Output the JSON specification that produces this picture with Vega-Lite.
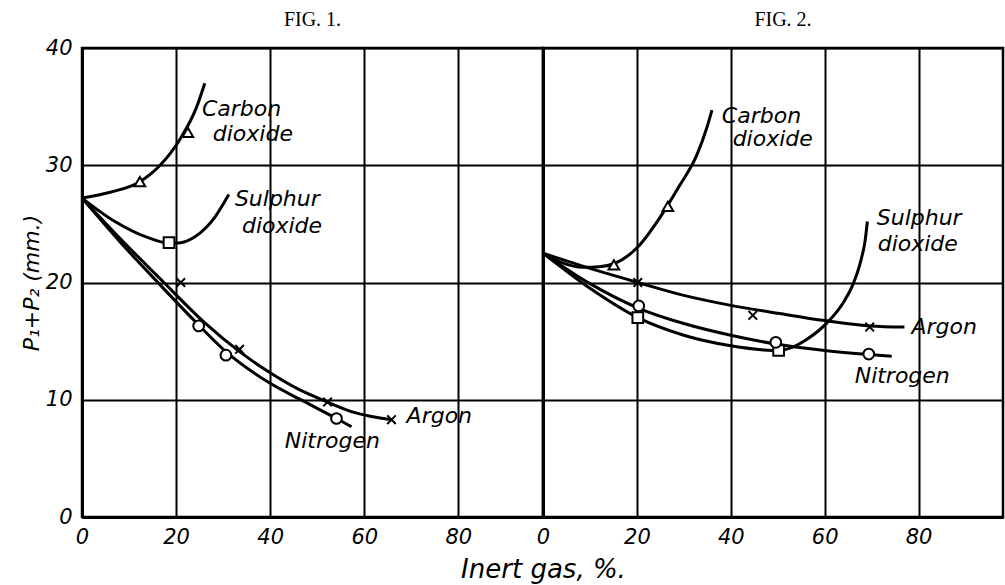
{
  "$schema": "https://vega.github.io/schema/vega-lite/v6.json",
  "background": "white",
  "padding": {"left": 19, "top": 8, "right": 0, "bottom": 0},
  "spacing": 0,
  "bounds": "flush",
  "config": {
    "view": {"stroke": "black", "strokeWidth": 2.5},
    "font": "DejaVu Sans",
    "axis": {
      "ticks": false, "tickSize": 0,
      "domainColor": "black", "domainWidth": 3,
      "gridColor": "black", "gridWidth": 2, "gridOpacity": 1,
      "labelFont": "DejaVu Sans", "labelFontStyle": "italic", "labelFontSize": 21, "labelColor": "black",
      "labelFlush": false,
      "titleFont": "DejaVu Sans", "titleFontStyle": "italic", "titleFontWeight": "normal", "titleFontSize": 22, "titleColor": "black"
    },
    "title": {"font": "Liberation Serif", "fontSize": 20, "fontWeight": "normal", "color": "black", "frame": "group", "baseline": "bottom"}
  },
  "datasets": {
    "curves": [
      {"fig": 1, "gas": "Carbon dioxide", "x": 0, "y": 27.2},
      {"fig": 1, "gas": "Carbon dioxide", "x": 6, "y": 27.7},
      {"fig": 1, "gas": "Carbon dioxide", "x": 12.3, "y": 28.6},
      {"fig": 1, "gas": "Carbon dioxide", "x": 16.6, "y": 30},
      {"fig": 1, "gas": "Carbon dioxide", "x": 20.8, "y": 32.2},
      {"fig": 1, "gas": "Carbon dioxide", "x": 24.4, "y": 35},
      {"fig": 1, "gas": "Carbon dioxide", "x": 26.1, "y": 37},
      {"fig": 1, "gas": "Sulphur dioxide", "x": 0, "y": 27.2},
      {"fig": 1, "gas": "Sulphur dioxide", "x": 7, "y": 25.2},
      {"fig": 1, "gas": "Sulphur dioxide", "x": 14.2, "y": 23.8},
      {"fig": 1, "gas": "Sulphur dioxide", "x": 18.5, "y": 23.35},
      {"fig": 1, "gas": "Sulphur dioxide", "x": 21, "y": 23.4},
      {"fig": 1, "gas": "Sulphur dioxide", "x": 24, "y": 23.9},
      {"fig": 1, "gas": "Sulphur dioxide", "x": 28.3, "y": 25.6},
      {"fig": 1, "gas": "Sulphur dioxide", "x": 31.2, "y": 27.5},
      {"fig": 1, "gas": "Argon", "x": 0, "y": 27.2},
      {"fig": 1, "gas": "Argon", "x": 8, "y": 23.8},
      {"fig": 1, "gas": "Argon", "x": 17.4, "y": 20},
      {"fig": 1, "gas": "Argon", "x": 26, "y": 16.6},
      {"fig": 1, "gas": "Argon", "x": 33.5, "y": 14.1},
      {"fig": 1, "gas": "Argon", "x": 40, "y": 12.3},
      {"fig": 1, "gas": "Argon", "x": 46, "y": 10.9},
      {"fig": 1, "gas": "Argon", "x": 51.6, "y": 9.9},
      {"fig": 1, "gas": "Argon", "x": 58, "y": 8.9},
      {"fig": 1, "gas": "Argon", "x": 65.8, "y": 8.3},
      {"fig": 1, "gas": "Nitrogen", "x": 0, "y": 27.2},
      {"fig": 1, "gas": "Nitrogen", "x": 8, "y": 23.5},
      {"fig": 1, "gas": "Nitrogen", "x": 15.9, "y": 20.1},
      {"fig": 1, "gas": "Nitrogen", "x": 24, "y": 16.7},
      {"fig": 1, "gas": "Nitrogen", "x": 30.6, "y": 14.1},
      {"fig": 1, "gas": "Nitrogen", "x": 40, "y": 11.4},
      {"fig": 1, "gas": "Nitrogen", "x": 47, "y": 9.9},
      {"fig": 1, "gas": "Nitrogen", "x": 54.1, "y": 8.4},
      {"fig": 1, "gas": "Nitrogen", "x": 57.3, "y": 7.7},
      {"fig": 2, "gas": "Carbon dioxide", "x": 0, "y": 22.5},
      {"fig": 2, "gas": "Carbon dioxide", "x": 4, "y": 21.7},
      {"fig": 2, "gas": "Carbon dioxide", "x": 8.5, "y": 21.3},
      {"fig": 2, "gas": "Carbon dioxide", "x": 12, "y": 21.35},
      {"fig": 2, "gas": "Carbon dioxide", "x": 15.1, "y": 21.6},
      {"fig": 2, "gas": "Carbon dioxide", "x": 20.6, "y": 23.2},
      {"fig": 2, "gas": "Carbon dioxide", "x": 24, "y": 25},
      {"fig": 2, "gas": "Carbon dioxide", "x": 26.6, "y": 26.6},
      {"fig": 2, "gas": "Carbon dioxide", "x": 29, "y": 28.2},
      {"fig": 2, "gas": "Carbon dioxide", "x": 32.8, "y": 30.9},
      {"fig": 2, "gas": "Carbon dioxide", "x": 34.9, "y": 33.2},
      {"fig": 2, "gas": "Carbon dioxide", "x": 36, "y": 34.7},
      {"fig": 2, "gas": "Sulphur dioxide", "x": 0, "y": 22.5},
      {"fig": 2, "gas": "Sulphur dioxide", "x": 10, "y": 19.5},
      {"fig": 2, "gas": "Sulphur dioxide", "x": 20.2, "y": 17.0},
      {"fig": 2, "gas": "Sulphur dioxide", "x": 30, "y": 15.5},
      {"fig": 2, "gas": "Sulphur dioxide", "x": 40, "y": 14.6},
      {"fig": 2, "gas": "Sulphur dioxide", "x": 47, "y": 14.25},
      {"fig": 2, "gas": "Sulphur dioxide", "x": 50.2, "y": 14.2},
      {"fig": 2, "gas": "Sulphur dioxide", "x": 52.6, "y": 14.4},
      {"fig": 2, "gas": "Sulphur dioxide", "x": 56, "y": 15.1},
      {"fig": 2, "gas": "Sulphur dioxide", "x": 60.6, "y": 16.6},
      {"fig": 2, "gas": "Sulphur dioxide", "x": 64, "y": 18.3},
      {"fig": 2, "gas": "Sulphur dioxide", "x": 66, "y": 19.8},
      {"fig": 2, "gas": "Sulphur dioxide", "x": 67.8, "y": 22},
      {"fig": 2, "gas": "Sulphur dioxide", "x": 68.6, "y": 23.5},
      {"fig": 2, "gas": "Sulphur dioxide", "x": 69.1, "y": 25.2},
      {"fig": 2, "gas": "Argon", "x": 0, "y": 22.5},
      {"fig": 2, "gas": "Argon", "x": 10, "y": 21.2},
      {"fig": 2, "gas": "Argon", "x": 20.2, "y": 20},
      {"fig": 2, "gas": "Argon", "x": 30, "y": 18.9},
      {"fig": 2, "gas": "Argon", "x": 40, "y": 18.05},
      {"fig": 2, "gas": "Argon", "x": 50.4, "y": 17.35},
      {"fig": 2, "gas": "Argon", "x": 60, "y": 16.75},
      {"fig": 2, "gas": "Argon", "x": 69.6, "y": 16.3},
      {"fig": 2, "gas": "Argon", "x": 77, "y": 16.2},
      {"fig": 2, "gas": "Nitrogen", "x": 0, "y": 22.5},
      {"fig": 2, "gas": "Nitrogen", "x": 10, "y": 19.9},
      {"fig": 2, "gas": "Nitrogen", "x": 20.4, "y": 17.8},
      {"fig": 2, "gas": "Nitrogen", "x": 30, "y": 16.5},
      {"fig": 2, "gas": "Nitrogen", "x": 40, "y": 15.5},
      {"fig": 2, "gas": "Nitrogen", "x": 49.6, "y": 14.75},
      {"fig": 2, "gas": "Nitrogen", "x": 60, "y": 14.2},
      {"fig": 2, "gas": "Nitrogen", "x": 69.4, "y": 13.85},
      {"fig": 2, "gas": "Nitrogen", "x": 74.3, "y": 13.7}
    ],
    "points": [
      {"fig": 1, "gas": "Carbon dioxide", "x": 12.3, "y": 28.6},
      {"fig": 1, "gas": "Carbon dioxide", "x": 22.5, "y": 32.8},
      {"fig": 1, "gas": "Sulphur dioxide", "x": 18.5, "y": 23.4},
      {"fig": 1, "gas": "Argon", "x": 21, "y": 20.0},
      {"fig": 1, "gas": "Argon", "x": 33.5, "y": 14.3},
      {"fig": 1, "gas": "Argon", "x": 52.2, "y": 9.8},
      {"fig": 1, "gas": "Argon", "x": 65.8, "y": 8.3},
      {"fig": 1, "gas": "Nitrogen", "x": 24.8, "y": 16.3},
      {"fig": 1, "gas": "Nitrogen", "x": 30.6, "y": 13.8},
      {"fig": 1, "gas": "Nitrogen", "x": 54.1, "y": 8.4},
      {"fig": 2, "gas": "Carbon dioxide", "x": 15.1, "y": 21.5},
      {"fig": 2, "gas": "Carbon dioxide", "x": 26.6, "y": 26.5},
      {"fig": 2, "gas": "Sulphur dioxide", "x": 20.2, "y": 17.0},
      {"fig": 2, "gas": "Sulphur dioxide", "x": 50.2, "y": 14.2},
      {"fig": 2, "gas": "Argon", "x": 20.2, "y": 20.0},
      {"fig": 2, "gas": "Argon", "x": 44.7, "y": 17.2},
      {"fig": 2, "gas": "Argon", "x": 69.6, "y": 16.2},
      {"fig": 2, "gas": "Nitrogen", "x": 20.4, "y": 18.0},
      {"fig": 2, "gas": "Nitrogen", "x": 49.6, "y": 14.9},
      {"fig": 2, "gas": "Nitrogen", "x": 69.4, "y": 13.9}
    ],
    "labels": [
      {"fig": 1, "text": "Carbon", "x": 25.5, "y": 34.8},
      {"fig": 1, "text": "dioxide", "x": 27.8, "y": 32.7},
      {"fig": 1, "text": "Sulphur", "x": 32.5, "y": 27.1},
      {"fig": 1, "text": "dioxide", "x": 34, "y": 24.8},
      {"fig": 1, "text": "Argon", "x": 69, "y": 8.6},
      {"fig": 1, "text": "Nitrogen", "x": 43.1, "y": 6.5},
      {"fig": 2, "text": "Carbon", "x": 38.1, "y": 34.2},
      {"fig": 2, "text": "dioxide", "x": 40.4, "y": 32.2},
      {"fig": 2, "text": "Sulphur", "x": 71.1, "y": 25.5},
      {"fig": 2, "text": "dioxide", "x": 71.3, "y": 23.3},
      {"fig": 2, "text": "Argon", "x": 78.5, "y": 16.2},
      {"fig": 2, "text": "Nitrogen", "x": 66.4, "y": 12.0}
    ]
  },
  "hconcat": [
    {
      "width": 461,
      "height": 469,
      "title": {"text": "FIG. 1.", "offset": 7},
      "layer": [
        {
          "data": {"name": "curves"},
          "transform": [{"filter": "datum.fig == 1"}],
          "mark": {"type": "line", "interpolate": "monotone", "color": "black", "strokeWidth": 3},
          "encoding": {
            "x": {"field": "x", "type": "quantitative", "scale": {"domain": [0, 98], "nice": false, "zero": false},
              "axis": {"values": [0, 20, 40, 60, 80], "grid": true, "labelPadding": 9, "title": "Inert gas, %.", "titleX": 461, "titleY": 52, "titleBaseline": "middle", "titleAlign": "center", "titleFontSize": 26}},
            "y": {"field": "y", "type": "quantitative", "scale": {"domain": [0, 40], "nice": false, "zero": false},
              "axis": {"values": [0, 10, 20, 30, 40], "grid": true, "labelPadding": 10, "titlePadding": 2, "title": "P₁+P₂ (mm.)"}},
            "detail": {"field": "gas"}
          }
        },
        {
          "data": {"name": "points"},
          "transform": [{"filter": "datum.fig == 1"}],
          "mark": {"type": "point", "filled": true, "fill": "white", "stroke": "black", "strokeWidth": 2, "size": 115, "opacity": 1},
          "encoding": {
            "x": {"field": "x", "type": "quantitative"},
            "y": {"field": "y", "type": "quantitative"},
            "shape": {"field": "gas", "type": "nominal", "legend": null,
              "scale": {"domain": ["Carbon dioxide", "Sulphur dioxide", "Argon", "Nitrogen"], "range": ["triangle-up", "square", "M-0.8,-0.8L0.8,0.8M-0.8,0.8L0.8,-0.8", "circle"]}}
          }
        },
        {
          "data": {"name": "labels"},
          "transform": [{"filter": "datum.fig == 1"}],
          "mark": {"type": "text", "align": "left", "baseline": "middle", "font": "DejaVu Sans", "fontStyle": "italic", "fontSize": 22, "color": "black"},
          "encoding": {
            "x": {"field": "x", "type": "quantitative"},
            "y": {"field": "y", "type": "quantitative"},
            "text": {"field": "text"}
          }
        }
      ]
    },
    {
      "width": 460,
      "height": 469,
      "title": {"text": "FIG. 2.", "dx": 10, "offset": 18},
      "layer": [
        {
          "data": {"name": "curves"},
          "transform": [{"filter": "datum.fig == 2"}],
          "mark": {"type": "line", "interpolate": "monotone", "color": "black", "strokeWidth": 3},
          "encoding": {
            "x": {"field": "x", "type": "quantitative", "scale": {"domain": [0, 98], "nice": false, "zero": false},
              "axis": {"values": [0, 20, 40, 60, 80], "grid": true, "labelPadding": 9, "title": null}},
            "y": {"field": "y", "type": "quantitative", "scale": {"domain": [0, 40], "nice": false, "zero": false},
              "axis": {"values": [0, 10, 20, 30, 40], "grid": true, "labels": false, "title": null, "domainWidth": 3}},
            "detail": {"field": "gas"}
          }
        },
        {
          "data": {"name": "points"},
          "transform": [{"filter": "datum.fig == 2"}],
          "mark": {"type": "point", "filled": true, "fill": "white", "stroke": "black", "strokeWidth": 2, "size": 115, "opacity": 1},
          "encoding": {
            "x": {"field": "x", "type": "quantitative"},
            "y": {"field": "y", "type": "quantitative"},
            "shape": {"field": "gas", "type": "nominal", "legend": null,
              "scale": {"domain": ["Carbon dioxide", "Sulphur dioxide", "Argon", "Nitrogen"], "range": ["triangle-up", "square", "M-0.8,-0.8L0.8,0.8M-0.8,0.8L0.8,-0.8", "circle"]}}
          }
        },
        {
          "data": {"name": "labels"},
          "transform": [{"filter": "datum.fig == 2"}],
          "mark": {"type": "text", "align": "left", "baseline": "middle", "font": "DejaVu Sans", "fontStyle": "italic", "fontSize": 22, "color": "black"},
          "encoding": {
            "x": {"field": "x", "type": "quantitative"},
            "y": {"field": "y", "type": "quantitative"},
            "text": {"field": "text"}
          }
        }
      ]
    }
  ],
  "resolve": {"scale": {"x": "independent", "y": "shared", "shape": "shared"}}
}
